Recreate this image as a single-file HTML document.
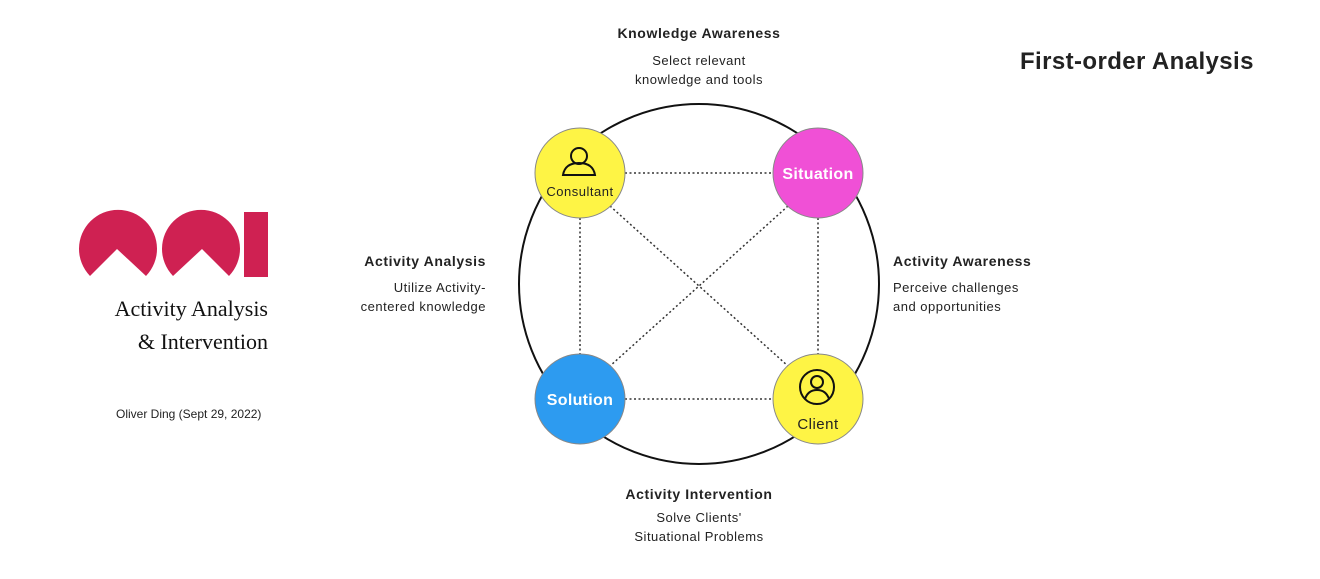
<!DOCTYPE html>
<html><head><meta charset="utf-8"><style>
html,body{margin:0;padding:0;background:#fff;}
body{width:1320px;height:579px;position:relative;overflow:hidden;font-family:"Liberation Sans","DejaVu Sans",sans-serif;color:#222;}
.t{position:absolute;font-size:13px;line-height:19px;white-space:nowrap;letter-spacing:0.5px;}
.b{font-weight:bold;font-size:14px;letter-spacing:0.6px;}
.c{text-align:center;transform:translateX(-50%);}
.r{text-align:right;}
.s{position:absolute;font-family:"Liberation Serif",serif;font-size:22px;color:#111;white-space:nowrap;text-align:right;}
</style></head><body>
<svg width="1320" height="579" style="position:absolute;left:0;top:0">
  <circle cx="699" cy="284" r="180" fill="none" stroke="#111" stroke-width="2"/>
  <g stroke="#333" stroke-width="1.5" stroke-dasharray="2,2.5" fill="none">
    <line x1="625" y1="173" x2="773" y2="173"/>
    <line x1="625" y1="399" x2="773" y2="399"/>
    <line x1="580" y1="218" x2="580" y2="354"/>
    <line x1="818" y1="218" x2="818" y2="354"/>
    <line x1="610" y1="206" x2="788" y2="366"/>
    <line x1="788" y1="206" x2="610" y2="366"/>
  </g>
  <circle cx="580" cy="173" r="45" fill="#fef445" stroke="#888" stroke-width="1"/>
  <circle cx="818" cy="173" r="45" fill="#f050d6" stroke="#888" stroke-width="1"/>
  <circle cx="580" cy="399" r="45" fill="#2d9bf0" stroke="#888" stroke-width="1"/>
  <circle cx="818" cy="399" r="45" fill="#fef445" stroke="#888" stroke-width="1"/>
  <g fill="none" stroke="#111" stroke-width="2">
    <circle cx="579" cy="156" r="8"/>
    <path d="M563 175 Q565 163 579 163 Q593 163 595 175 Z"/>
    <circle cx="817" cy="387" r="17"/>
    <circle cx="817" cy="382" r="6"/>
    <path d="M805 399 Q808 390 817 390 Q826 390 829 399"/>
  </g>
  <text x="580" y="196" text-anchor="middle" font-family="Liberation Sans,sans-serif" font-size="13" letter-spacing="0.5" fill="#222">Consultant</text>
  <text x="818" y="179" text-anchor="middle" font-family="Liberation Sans,sans-serif" font-size="16" font-weight="bold" letter-spacing="0.3" fill="#fff">Situation</text>
  <text x="580" y="405" text-anchor="middle" font-family="Liberation Sans,sans-serif" font-size="16" font-weight="bold" letter-spacing="0.3" fill="#fff">Solution</text>
  <text x="818" y="429" text-anchor="middle" font-family="Liberation Sans,sans-serif" font-size="15" letter-spacing="0.5" fill="#222">Client</text>
  <g fill="#cf2152">
    <path d="M90 276 A39 39 0 1 1 146 276 L117 249 Z"/>
    <path d="M173 276 A39 39 0 1 1 229 276 L202 249 Z"/>
    <rect x="244" y="212" width="24" height="65"/>
  </g>
</svg>
<div class="s" style="right:1052px;top:296px;">Activity Analysis</div>
<div class="s" style="right:1052px;top:329px;">&amp; Intervention</div>
<div class="t" style="left:116px;top:405px;font-size:12px;letter-spacing:0;">Oliver Ding (Sept 29, 2022)</div>

<div class="t b" style="left:1020px;top:47px;font-size:24px;line-height:30px;letter-spacing:0.4px;">First-order Analysis</div>

<div class="t b c" style="left:699px;top:24px;">Knowledge Awareness</div>
<div class="t c" style="left:699px;top:51px;">Select relevant<br>knowledge and tools</div>

<div class="t b r" style="right:834px;top:252px;">Activity Analysis</div>
<div class="t r" style="right:834px;top:278px;">Utilize Activity-<br>centered knowledge</div>

<div class="t b" style="left:893px;top:252px;">Activity Awareness</div>
<div class="t" style="left:893px;top:278px;">Perceive challenges<br>and opportunities</div>

<div class="t b c" style="left:699px;top:485px;">Activity Intervention</div>
<div class="t c" style="left:699px;top:508px;">Solve Clients'<br>Situational Problems</div>
</body></html>
